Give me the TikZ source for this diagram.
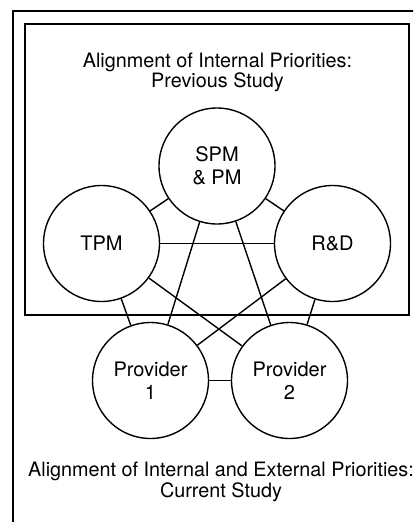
\documentclass[tikz,border=0pt]{standalone}
\usepackage{fontspec}
\setmainfont{TeX Gyre Heros}
\begin{document}
\begin{tikzpicture}[x=1pt,y=-1pt,line width=1.4pt,
  party/.style={circle,draw,minimum size=116pt,inner sep=0pt,align=center,font=\fontsize{20}{23}\selectfont},
  caption/.style={align=center,inner sep=0pt,font=\fontsize{19.8}{20.7}\selectfont}]
\clip (0,0) rectangle (413,522);
\draw (13,11) rectangle (440,560);
\draw (25,24) rectangle (409,315);
\node[caption] (t1) at (217.5,72.3) {Alignment of Internal Priorities:\\Previous Study};
\node[caption] (t2) at (221,482) {Alignment of Internal and External Priorities:\\Current Study};
\node[party] (spm) at (217,166) {SPM\\\& PM};
\node[party] (tpm) at (101.5,243.5) {TPM};
\node[party] (rd) at (332.5,243.5) {R\&D};
\node[party] (p1) at (150.5,380.5) {Provider\\1};
\node[party] (p2) at (289.5,380.5) {Provider\\2};
\draw (spm) -- (tpm);
\draw (spm) -- (rd);
\draw (tpm) -- (rd);
\draw (spm) -- (p1);
\draw (spm) -- (p2);
\draw (tpm) -- (p1);
\draw (tpm) -- (p2);
\draw (rd) -- (p1);
\draw (rd) -- (p2);
\draw (p1) -- (p2);
\end{tikzpicture}
\end{document}
